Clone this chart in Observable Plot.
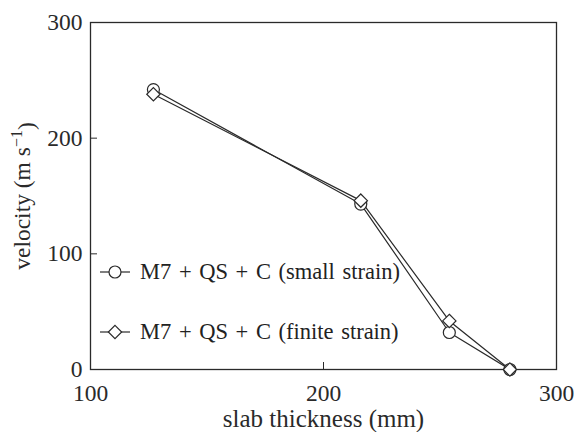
<!DOCTYPE html>
<html>
<head>
<meta charset="utf-8">
<script src="https://cdn.jsdelivr.net/npm/d3@7"></script>
<script src="https://cdn.jsdelivr.net/npm/@observablehq/plot@0.6"></script>
<style>
  body { margin: 0; background: #fff; }
  #wrap { position: relative; width: 575px; height: 432px; }
  #wrap svg text, .leg { font-family: "Liberation Serif", "Times New Roman", Times, serif !important; }
  #wrap g[aria-label="x-axis tick label"] text, #wrap g[aria-label="y-axis tick label"] text { font-size: 23.5px; }
  #wrap g[aria-label="x-axis label"] text { font-size: 25px; }
  #wrap g[aria-label="y-axis label"] text { font-size: 23.5px; }
  .leg { position: absolute; left: 98px; font-size: 22.5px; word-spacing: 2px; color: #222; display: flex; align-items: center; white-space: nowrap; }
  .leg svg { margin-right: 8px; }
</style>
</head>
<body>
<div id="wrap"></div>
<script>
const thickness = [127, 216, 254, 280];
const smallStrain = [242, 143, 32, 0];
const finiteStrain = [238, 146, 42, 0];
const xTicks = [100, 200, 300];
const yTicks = [0, 100, 200, 300];
const xLabel = "slab thickness (mm)";
const yLabelParts = ["velocity (m s", "−1", ")"];
const seriesNames = ["M7 + QS + C (small strain)", "M7 + QS + C (finite strain)"];
const seriesSymbols = ["circle", "diamond2"];

const rows = [];
thickness.forEach((t, i) => {
  rows.push({series: seriesNames[0], x: t, y: smallStrain[i], symbol: seriesSymbols[0]});
  rows.push({series: seriesNames[1], x: t, y: finiteStrain[i], symbol: seriesSymbols[1]});
});

const ink = "#2a2a2a";

const chart = Plot.plot({
  width: 575,
  height: 432,
  marginLeft: 90,
  marginRight: 19,
  marginTop: 22,
  marginBottom: 63,
  style: {fontFamily: "'Liberation Serif', 'Times New Roman', serif", fontSize: "22px", color: ink, background: "#fff"},
  x: {domain: [100, 300]},
  y: {domain: [0, 300]},
  symbol: {domain: seriesSymbols, range: seriesSymbols},
  marks: [
    Plot.frame({stroke: ink, strokeWidth: 1.3}),
    Plot.axisX({ticks: xTicks, tickSize: -7, tickPadding: 22, stroke: ink, label: xLabel, labelAnchor: "center", labelArrow: "none", labelOffset: 57}),
    Plot.axisY({ticks: yTicks, tickSize: -7, tickPadding: 15, stroke: ink, label: yLabelParts.join(""), labelAnchor: "center", labelArrow: "none", labelOffset: 77}),
    Plot.line(rows, {x: "x", y: "y", z: "series", stroke: ink, strokeWidth: 1.2}),
    Plot.dot(rows, {x: "x", y: "y", symbol: "symbol", r: 6, stroke: ink, fill: "white", strokeWidth: 1.2})
  ]
});

const wrap = document.getElementById("wrap");
wrap.appendChild(chart);

// superscript in y label
const yl = chart.querySelector('g[aria-label="y-axis label"] text');
if (yl) {
  yl.textContent = "";
  const ns = "http://www.w3.org/2000/svg";
  const t1 = document.createElementNS(ns, "tspan"); t1.textContent = yLabelParts[0];
  const t2 = document.createElementNS(ns, "tspan"); t2.textContent = yLabelParts[1];
  t2.setAttribute("font-size", "16px"); t2.setAttribute("dy", "-0.5em");
  const t3 = document.createElementNS(ns, "tspan"); t3.textContent = yLabelParts[2];
  t3.setAttribute("dy", "0.5em");
  yl.append(t1, t2, t3);
}

// legend overlay
const legTops = [257, 317];
seriesNames.forEach((name, i) => {
  const div = document.createElement("div");
  div.className = "leg";
  div.style.top = legTops[i] + "px";
  const sym = d3.symbol(i === 0 ? d3.symbolCircle : d3.symbolDiamond2, Math.PI * 36)();
  div.innerHTML = `<svg width="34" height="30" viewBox="0 0 34 30">
    <line x1="2" x2="32" y1="15" y2="15" stroke="${ink}" stroke-width="1.2"/>
    <path d="${sym}" transform="translate(17,15)" fill="white" stroke="${ink}" stroke-width="1.2"/>
  </svg><span>${name}</span>`;
  wrap.appendChild(div);
});
</script>
</body>
</html>
